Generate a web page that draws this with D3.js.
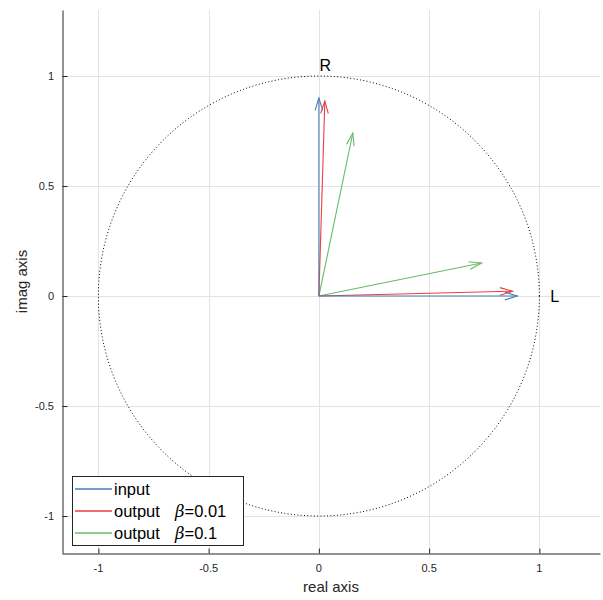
<!DOCTYPE html>
<html>
<head>
<meta charset="utf-8">
<script src="https://cdn.jsdelivr.net/npm/d3@7"></script>
<style>
  html, body { margin: 0; padding: 0; background: #fff; }
  svg { display: block; font-family: "Liberation Sans", Arial, sans-serif; }
</style>
</head>
<body>
<svg id="chart" width="603" height="600"></svg>
<script>
// Vectors in the complex plane: [real, imag] end points, each starting at the origin
const inputVectors = [[0.9, 0], [0, 0.9]];
const outputBeta001 = [[0.878, 0.022], [0.027, 0.886]];
const outputBeta01 = [[0.738, 0.150], [0.154, 0.741]];

const legendNames = ["input", "output", "output"];
const legendBeta = [null, "=0.01", "=0.1"];
const seriesColors = ["#4a7db3", "#ee3d42", "#66bb66"];

const xTicks = [-1, -0.5, 0, 0.5, 1];
const yTicks = [-1, -0.5, 0, 0.5, 1];
const pointLabels = [{ text: "R", at: [0.03, 1.0] }, { text: "L", at: [1.07, 0] }];

const svg = d3.select("#chart");
const plotLeft = 62, plotRight = 600, plotTop = 10, plotBottom = 553;

const x = d3.scaleLinear().domain([-1.165, 1.275]).range([plotLeft, plotRight]);
const y = d3.scaleLinear().domain([-1.168, 1.3]).range([plotBottom, plotTop]);
const fmt = d => String(d);   // plain hyphen-minus

// grid
const grid = svg.append("g").attr("stroke", "#e3e3e3").attr("stroke-width", 1);
grid.selectAll("line.gx").data(xTicks).join("line")
  .attr("x1", d => Math.round(x(d)) + 0.5).attr("x2", d => Math.round(x(d)) + 0.5)
  .attr("y1", plotTop).attr("y2", plotBottom);
grid.selectAll("line.gy").data(yTicks).join("line")
  .attr("y1", d => Math.round(y(d)) + 0.5).attr("y2", d => Math.round(y(d)) + 0.5)
  .attr("x1", plotLeft).attr("x2", plotRight);

// axes with inward ticks
const xAxis = svg.append("g").attr("transform", `translate(0,${plotBottom + 0.5})`)
  .call(d3.axisTop(x).tickValues(xTicks).tickSize(5).tickSizeOuter(0).tickFormat(fmt));
xAxis.selectAll("text").remove();
const yAxis = svg.append("g").attr("transform", `translate(${plotLeft + 0.5},0)`)
  .call(d3.axisRight(y).tickValues(yTicks).tickSize(5).tickSizeOuter(0).tickFormat(fmt));
yAxis.selectAll("text").remove();
svg.selectAll(".domain").attr("stroke", "#262626");
svg.selectAll(".tick line").attr("stroke", "#262626");

svg.append("g").selectAll("text").data(xTicks).join("text")
  .attr("x", d => x(d)).attr("y", plotBottom + 19)
  .attr("text-anchor", "middle").attr("font-size", 11).attr("fill", "#262626")
  .text(fmt);
svg.append("g").selectAll("text").data(yTicks).join("text")
  .attr("x", plotLeft - 8).attr("y", d => y(d) + 4)
  .attr("text-anchor", "end").attr("font-size", 11).attr("fill", "#262626")
  .text(fmt);

svg.append("text").attr("x", (plotLeft + plotRight) / 2).attr("y", 592)
  .attr("text-anchor", "middle").attr("font-size", 15).attr("fill", "#262626").text("real axis");
svg.append("text").attr("transform", `translate(27,${(plotTop + plotBottom) / 2}) rotate(-90)`)
  .attr("text-anchor", "middle").attr("font-size", 15).attr("fill", "#262626").text("imag axis");

// unit circle
const circleData = d3.range(0, 361, 1).map(a => [Math.cos(a * Math.PI / 180), Math.sin(a * Math.PI / 180)]);
svg.append("path")
  .attr("d", d3.line().x(d => x(d[0])).y(d => y(d[1]))(circleData))
  .attr("fill", "none").attr("stroke", "#000").attr("stroke-width", 1)
  .attr("stroke-dasharray", "1,2.3");

// arrows
function drawArrows(vectors, color) {
  const g = svg.append("g").attr("stroke", color).attr("stroke-width", 1.1).attr("fill", "none");
  vectors.forEach(v => {
    const x0 = x(0), y0 = y(0), x1 = x(v[0]), y1 = y(v[1]);
    g.append("line").attr("x1", x0).attr("y1", y0).attr("x2", x1).attr("y2", y1);
    const ang = Math.atan2(y1 - y0, x1 - x0);
    const len = 13, spread = 0.3;
    const p1 = [x1 - len * Math.cos(ang - spread), y1 - len * Math.sin(ang - spread)];
    const p2 = [x1 - len * Math.cos(ang + spread), y1 - len * Math.sin(ang + spread)];
    g.append("path").attr("d", `M${p1[0]},${p1[1]}L${x1},${y1}L${p2[0]},${p2[1]}`);
  });
}
drawArrows(outputBeta01, seriesColors[2]);
drawArrows(outputBeta001, seriesColors[1]);
drawArrows(inputVectors, seriesColors[0]);

// R / L labels
svg.append("g").selectAll("text").data(pointLabels).join("text")
  .attr("x", d => x(d.at[0])).attr("y", d => y(d.at[1]))
  .attr("dy", d => d.text === "R" ? -5 : 6)
  .attr("text-anchor", d => d.text === "R" ? "start" : "middle")
  .attr("font-size", 16).attr("fill", "#000")
  .attr("dx", d => d.text === "R" ? -6 : 0)
  .text(d => d.text);

// legend
const lg = svg.append("g");
lg.append("rect").attr("x", 72.5).attr("y", 476.5).attr("width", 171).attr("height", 69)
  .attr("fill", "#fff").attr("stroke", "#262626").attr("stroke-width", 1);
legendNames.forEach((name, i) => {
  const cy = 489 + i * 22;
  lg.append("line").attr("x1", 75).attr("x2", 112).attr("y1", cy).attr("y2", cy)
    .attr("stroke", seriesColors[i]).attr("stroke-width", 1.3);
  const t = lg.append("text").attr("x", 114).attr("y", cy + 6)
    .attr("font-size", 16.5).attr("fill", "#000");
  t.append("tspan").text(name);
  if (legendBeta[i]) {
    t.append("tspan").attr("x", 175).attr("font-family", "'DejaVu Serif', 'Liberation Serif', serif")
      .attr("font-style", "italic").text("β");
    t.append("tspan").text(legendBeta[i]);
  }
});
</script>
</body>
</html>
